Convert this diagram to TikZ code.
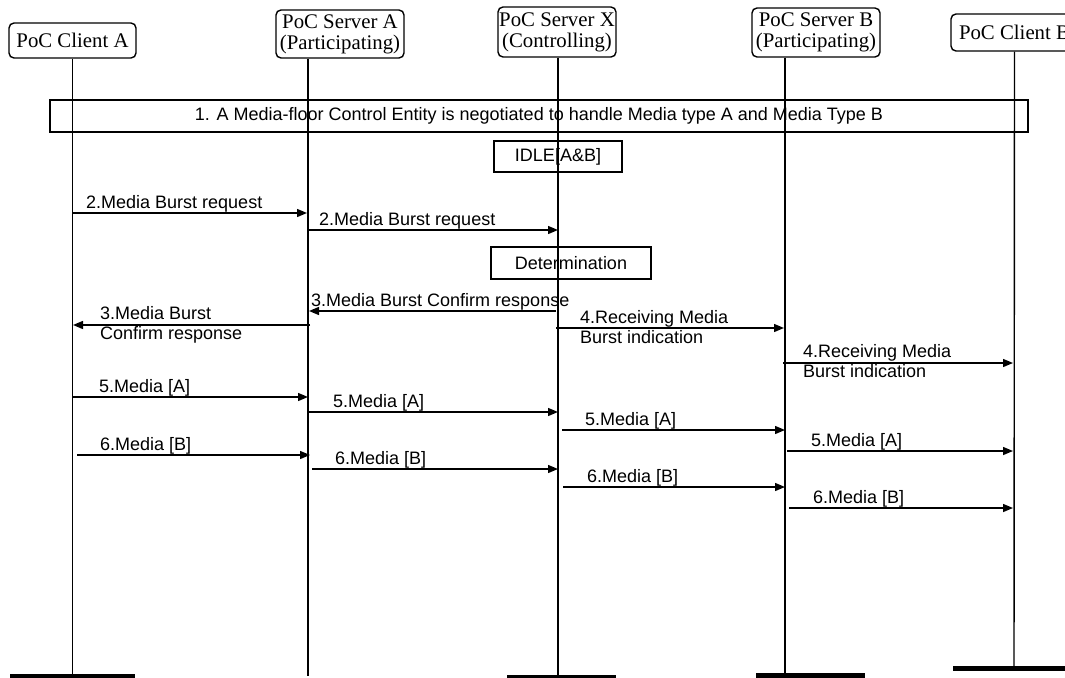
\documentclass[tikz,border=0pt]{standalone}
\usepackage{fontspec}
\setmainfont{Liberation Serif}
\newfontfamily\arialf{Liberation Sans}
\usetikzlibrary{arrows.meta}
\tikzset{
  head/.style={draw, rounded corners=5pt, line width=1.4pt, align=center, inner sep=0pt, font=\fontsize{20.8}{21}\selectfont},
  lifeline/.style={line width=1.4pt},
  bar/.style={fill=black, draw=none, inner sep=0pt, minimum height=5pt},
  msg/.style={line width=1.4pt, -{Triangle[length=10pt,width=8pt]}},
  lbl/.style={font=\arialf\fontsize{18}{20}\selectfont, inner sep=0pt, align=left},
  stbox/.style={draw, line width=1.4pt, inner sep=0pt, font=\arialf\fontsize{18}{20}\selectfont}
}
\begin{document}
\begin{tikzpicture}[x=1pt,y=-1pt]
\useasboundingbox (0,0) rectangle (1065,677);
\clip (0,0) rectangle (1065,677);
% heads
\node[head, minimum width=127pt, minimum height=35pt] (ca) at (72.5,40.5) {PoC Client A};
\node[head, minimum width=128pt, minimum height=48pt] (sa) at (340,34) {PoC Server A\\(Participating)};
\node[head, minimum width=118pt, minimum height=50pt] (sx) at (557,32) {PoC Server X\\(Controlling)};
\node[head, minimum width=128pt, minimum height=49pt] (sb) at (816,32.5) {PoC Server B\\(Participating)};
\node[head, minimum width=127pt, minimum height=37pt] (cb) at (1014.5,32.5) {PoC Client B};
% bars and lifeline ends
\node[bar, minimum width=125pt, anchor=north] (bca) at (72.5,674) {};
\coordinate (esa) at (308,676);
\node[bar, minimum width=109pt, anchor=north] (bsx) at (561.5,675) {};
\coordinate (esx) at (558,675);
\node[bar, minimum width=109pt, anchor=north] (bsb) at (810.5,673) {};
\coordinate (esb) at (785,673);
\node[bar, minimum width=122pt, anchor=north] (bcb) at (1014,666) {};
% lifelines
\draw[lifeline] (ca.south) -- (bca.north);
\draw[lifeline] (sa.south -| esa) -- (esa);
\draw[lifeline] (sx.south -| esx) -- (esx);
\draw[lifeline] (sb.south -| esb) -- (esb);
\draw[lifeline] (cb.south) -- (bcb.north);
% state boxes
\node[stbox, minimum width=978pt, minimum height=32pt] (neg) at (539,116) {1. A Media-floor Control Entity is negotiated to handle Media type A and Media Type B};
\node[stbox, minimum width=128pt, minimum height=31pt] (idle) at (558,156.5) {IDLE[A\&B]};
\node[stbox, minimum width=160pt, minimum height=32pt] (det) at (571,263) {Determination};
% single-line messages
\foreach \n/\xs/\xe/\yy/\lx/\t in {
  m2a/72/307/213/86/{2.Media Burst request},
  m2b/308/558/230/319/{2.Media Burst request},
  m3b/556/309/311/311/{3.Media Burst Confirm response},
  m5a/73/308/397/99/{5.Media [A]},
  m5b/308/558/412/333/{5.Media [A]},
  m5c/562/785/430/585/{5.Media [A]},
  m5d/787/1013/451/811/{5.Media [A]},
  m6a/77/310/455/100/{6.Media [B]},
  m6b/312/558/469/335/{6.Media [B]},
  m6c/563/785/487/587/{6.Media [B]},
  m6d/789/1013/508/813/{6.Media [B]}}{
  \coordinate (\n-s) at (\xs,\yy);
  \coordinate (\n-e) at (\xe,\yy);
  \draw[msg] (\n-s) -- (\n-e);
  \node[lbl, anchor=base west] (\n-l) at (\lx,\yy-4.5) {\t};
}
% two-line messages
\coordinate (m3a-s) at (310,325);
\coordinate (m3a-e) at (73,325);
\draw[msg] (m3a-s) -- (m3a-e);
\node[lbl, anchor=west] (m3a-l) at (100,325) {3.Media Burst\\Confirm response};
\coordinate (m4a-s) at (556,328);
\coordinate (m4a-e) at (784,328);
\draw[msg] (m4a-s) -- (m4a-e);
\node[lbl, anchor=west] (m4a-l) at (580,326.7) {4.Receiving Media\\Burst indication};
\coordinate (m4b-s) at (783,363);
\coordinate (m4b-e) at (1013,363);
\draw[msg] (m4b-s) -- (m4b-e);
\node[lbl, anchor=west] (m4b-l) at (803,361) {4.Receiving Media\\Burst indication};
\end{tikzpicture}
\end{document}
